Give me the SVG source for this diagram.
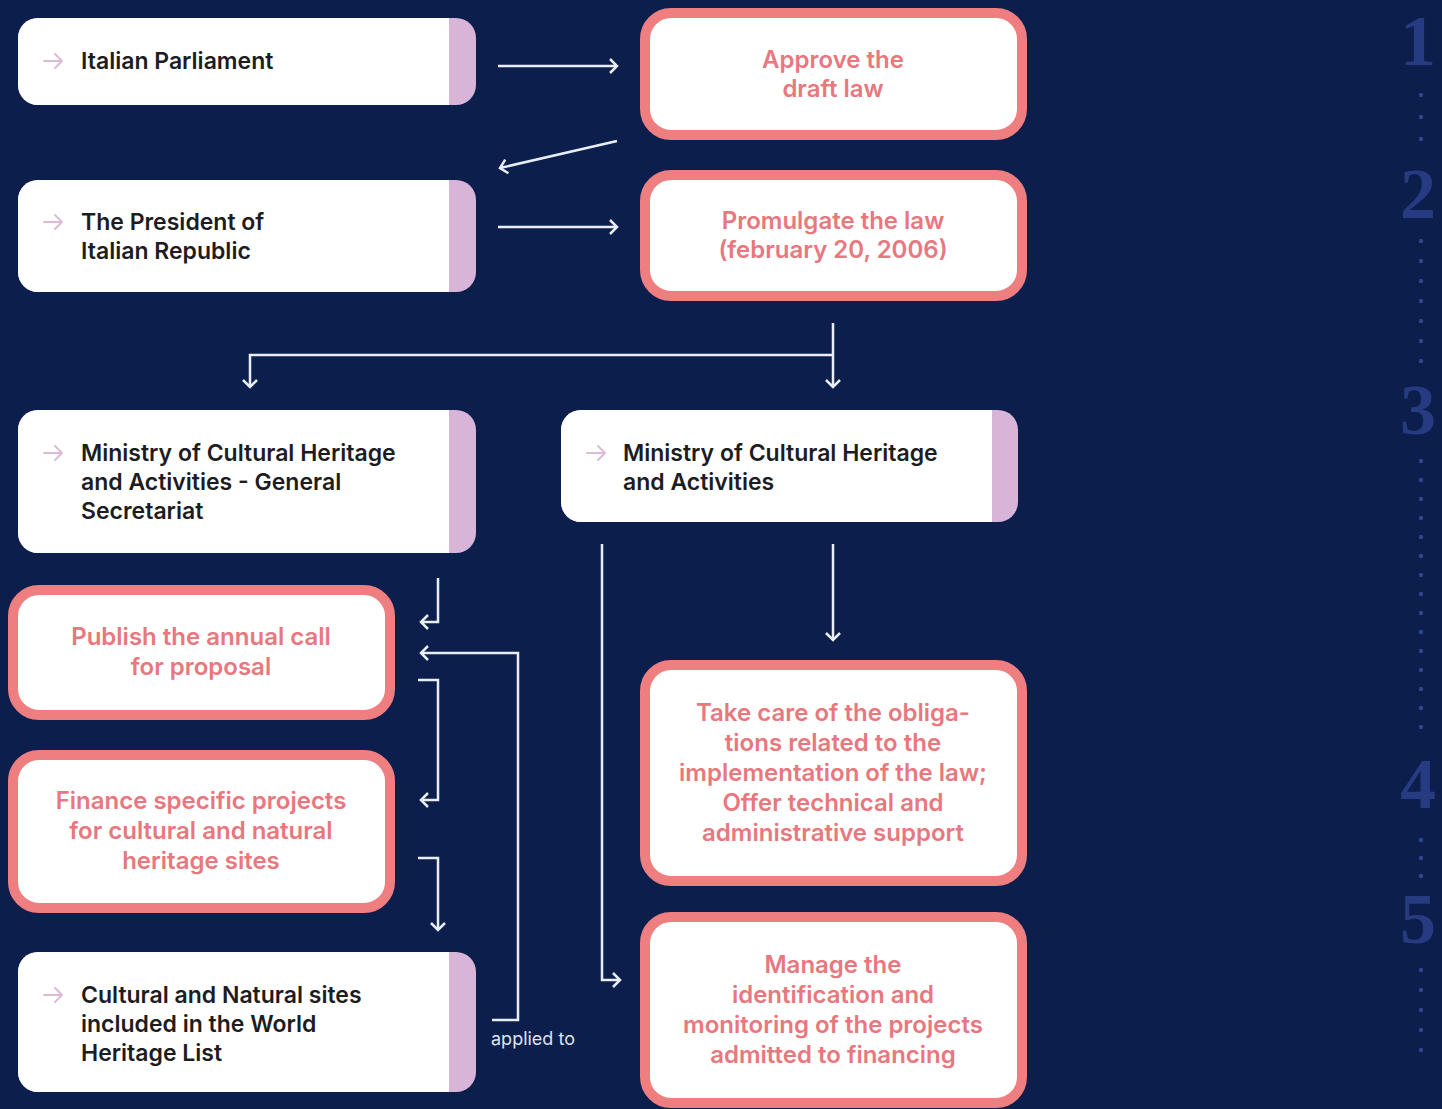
<svg xmlns="http://www.w3.org/2000/svg" xmlns:xlink="http://www.w3.org/1999/xlink" width="1442" height="1109" viewBox="0 0 1442 1109">
<style>
.bg{fill:#0c1f4c}
.white{fill:#ffffff}
.strip{fill:#d9b4d9}
.pink{fill:#ffffff;stroke:#ef7e80;stroke-width:10}
.dark{font-family:Inter,"Liberation Sans",sans-serif;font-weight:600;font-size:23px;fill:#1d1d1f}
.ptxt{font-family:Inter,"Liberation Sans",sans-serif;font-weight:600;font-size:24px;fill:#e8777e;text-anchor:middle}
.icon{fill:none;stroke:#dcbad8;stroke-width:2;stroke-linecap:round;stroke-linejoin:round}
.conn{fill:none;stroke:#e9edf5;stroke-width:2.5}
.lbl{font-family:Inter,"Liberation Sans",sans-serif;font-size:18px;fill:#dfe3ee}
.num{font-family:"Liberation Serif",serif;font-weight:bold;font-size:72px;fill:#273b82;text-anchor:middle}
.dot{fill:#30468f}
</style>
<defs>
<marker id="ah" viewBox="-10 -10 12 20" markerWidth="12" markerHeight="20" refX="0" refY="0" orient="auto" markerUnits="userSpaceOnUse">
<path d="M-7,-7 L0,0 L-7,7" fill="none" stroke="#e9edf5" stroke-width="2.5"/>
</marker>
<path id="ic" class="icon" d="M0,0 H18 M11,-7 L18,0 L11,7"/>
</defs>
<rect class="bg" x="0" y="0" width="1442" height="1109"/>

<g id="steps">
<text class="num" x="1418" y="65">1</text>
<text class="num" x="1418" y="218">2</text>
<text class="num" x="1418" y="434">3</text>
<text class="num" x="1418" y="808">4</text>
<text class="num" x="1418" y="943">5</text>
<g class="dot">
<circle cx="1421" cy="95" r="2.2"/><circle cx="1421" cy="117" r="2.2"/><circle cx="1421" cy="139" r="2.2"/>
<circle cx="1421" cy="241" r="2.2"/><circle cx="1421" cy="261" r="2.2"/><circle cx="1421" cy="281" r="2.2"/><circle cx="1421" cy="301" r="2.2"/><circle cx="1421" cy="321" r="2.2"/><circle cx="1421" cy="341" r="2.2"/><circle cx="1421" cy="361" r="2.2"/>
<circle cx="1421" cy="461" r="2.2"/><circle cx="1421" cy="480" r="2.2"/><circle cx="1421" cy="499" r="2.2"/><circle cx="1421" cy="518" r="2.2"/><circle cx="1421" cy="537" r="2.2"/><circle cx="1421" cy="556" r="2.2"/><circle cx="1421" cy="575" r="2.2"/><circle cx="1421" cy="594" r="2.2"/><circle cx="1421" cy="613" r="2.2"/><circle cx="1421" cy="632" r="2.2"/><circle cx="1421" cy="651" r="2.2"/><circle cx="1421" cy="670" r="2.2"/><circle cx="1421" cy="689" r="2.2"/><circle cx="1421" cy="708" r="2.2"/><circle cx="1421" cy="727" r="2.2"/>
<circle cx="1421" cy="840" r="2.2"/><circle cx="1421" cy="858" r="2.2"/><circle cx="1421" cy="876" r="2.2"/>
<circle cx="1421" cy="970" r="2.2"/><circle cx="1421" cy="990" r="2.2"/><circle cx="1421" cy="1010" r="2.2"/><circle cx="1421" cy="1030" r="2.2"/><circle cx="1421" cy="1050" r="2.2"/>
</g>
</g>

<g id="connectors">
<path class="conn" marker-end="url(#ah)" d="M498,66 H617"/>
<path class="conn" marker-end="url(#ah)" d="M617,141 L500,168"/>
<path class="conn" marker-end="url(#ah)" d="M498,227 H617"/>
<path class="conn" marker-end="url(#ah)" d="M833,323 V387"/>
<path class="conn" marker-end="url(#ah)" d="M833,355 H250 V387"/>
<path class="conn" marker-end="url(#ah)" d="M438,578 V622 H421"/>
<path class="conn" marker-end="url(#ah)" d="M492,1020 H518 V653 H421"/>
<path class="conn" marker-end="url(#ah)" d="M418,680 H438 V800 H421"/>
<path class="conn" marker-end="url(#ah)" d="M418,858 H438 V930"/>
<path class="conn" marker-end="url(#ah)" d="M833,544 V640"/>
<path class="conn" marker-end="url(#ah)" d="M602,544 V980 H620"/>
<text class="lbl" x="491" y="1045">applied to</text>
</g>

<g id="n-parliament">
<rect class="strip" x="18" y="18" width="458" height="87" rx="20"/>
<path class="white" d="M38,18 H449 V105 H38 A20,20 0 0 1 18,85 V38 A20,20 0 0 1 38,18 Z"/>
<use xlink:href="#ic" x="44" y="61"/>
<text class="dark" x="81" y="69">Italian Parliament</text>
</g>

<g id="n-approve">
<rect class="pink" x="645" y="13" width="377" height="122" rx="26"/>
<text class="ptxt" x="833" y="68">Approve the</text>
<text class="ptxt" x="833" y="97">draft law</text>
</g>

<g id="n-president">
<rect class="strip" x="18" y="180" width="458" height="112" rx="20"/>
<path class="white" d="M38,180 H449 V292 H38 A20,20 0 0 1 18,272 V200 A20,20 0 0 1 38,180 Z"/>
<use xlink:href="#ic" x="44" y="222"/>
<text class="dark" x="81" y="230">The President of</text>
<text class="dark" x="81" y="259">Italian Republic</text>
</g>

<g id="n-promulgate">
<rect class="pink" x="645" y="175" width="377" height="121" rx="26"/>
<text class="ptxt" x="833" y="229">Promulgate the law</text>
<text class="ptxt" x="833" y="258">(february 20, 2006)</text>
</g>

<g id="n-secretariat">
<rect class="strip" x="18" y="410" width="458" height="143" rx="20"/>
<path class="white" d="M38,410 H449 V553 H38 A20,20 0 0 1 18,533 V430 A20,20 0 0 1 38,410 Z"/>
<use xlink:href="#ic" x="44" y="453"/>
<text class="dark" x="81" y="461">Ministry of Cultural Heritage</text>
<text class="dark" x="81" y="490">and Activities - General</text>
<text class="dark" x="81" y="519">Secretariat</text>
</g>

<g id="n-ministry">
<rect class="strip" x="561" y="410" width="457" height="112" rx="20"/>
<path class="white" d="M581,410 H992 V522 H581 A20,20 0 0 1 561,502 V430 A20,20 0 0 1 581,410 Z"/>
<use xlink:href="#ic" x="587" y="453"/>
<text class="dark" x="623" y="461">Ministry of Cultural Heritage</text>
<text class="dark" x="623" y="490">and Activities</text>
</g>

<g id="n-publish">
<rect class="pink" x="13" y="590" width="377" height="125" rx="26"/>
<text class="ptxt" x="201" y="645">Publish the annual call</text>
<text class="ptxt" x="201" y="675">for proposal</text>
</g>

<g id="n-finance">
<rect class="pink" x="13" y="755" width="377" height="153" rx="26"/>
<text class="ptxt" x="201" y="809">Finance specific projects</text>
<text class="ptxt" x="201" y="839">for cultural and natural</text>
<text class="ptxt" x="201" y="869">heritage sites</text>
</g>

<g id="n-sites">
<rect class="strip" x="18" y="952" width="458" height="140" rx="20"/>
<path class="white" d="M38,952 H449 V1092 H38 A20,20 0 0 1 18,1072 V972 A20,20 0 0 1 38,952 Z"/>
<use xlink:href="#ic" x="44" y="995"/>
<text class="dark" x="81" y="1003">Cultural and Natural sites</text>
<text class="dark" x="81" y="1032">included in the World</text>
<text class="dark" x="81" y="1061">Heritage List</text>
</g>

<g id="n-obligations">
<rect class="pink" x="645" y="665" width="377" height="216" rx="26"/>
<text class="ptxt" x="833" y="721">Take care of the obliga-</text>
<text class="ptxt" x="833" y="751">tions related to the</text>
<text class="ptxt" x="833" y="781">implementation of the law;</text>
<text class="ptxt" x="833" y="811">Offer technical and</text>
<text class="ptxt" x="833" y="841">administrative support</text>
</g>

<g id="n-manage">
<rect class="pink" x="645" y="917" width="377" height="186" rx="26"/>
<text class="ptxt" x="833" y="973">Manage the</text>
<text class="ptxt" x="833" y="1003">identification and</text>
<text class="ptxt" x="833" y="1033">monitoring of the projects</text>
<text class="ptxt" x="833" y="1063">admitted to financing</text>
</g>
</svg>
